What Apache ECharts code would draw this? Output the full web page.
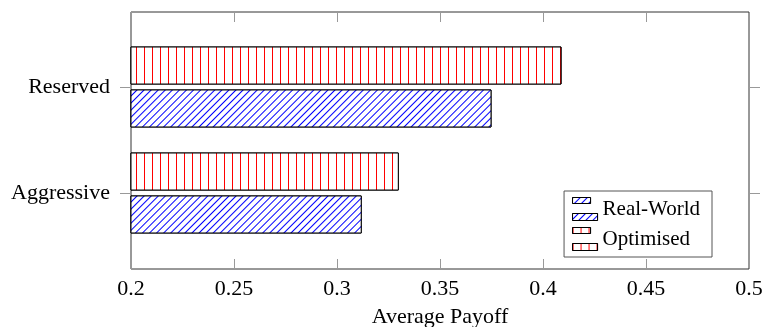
<!DOCTYPE html>
<html>
<head>
<meta charset="utf-8">
<script src="https://cdn.jsdelivr.net/npm/echarts@6/dist/echarts.min.js"></script>
<style>
html,body{margin:0;padding:0;background:#fff;}
#c{width:764px;height:327px;}
</style>
</head>
<body>
<div id="c"></div>
<script>
const categories = ['Aggressive', 'Reserved'];
const realWorld = [0.312, 0.375];
const optimised = [0.330, 0.409];
const xMin = 0.2, xMax = 0.5, xStep = 0.05;
const axisTitle = 'Average Payoff';

const FONT = 'Liberation Serif';
const chart = echarts.init(document.getElementById('c'), null, {renderer: 'canvas'});

const blueDecal = {
  symbol: 'rect', symbolSize: 1, color: '#0000ff', backgroundColor: '#ffffff',
  dashArrayX: [1, 0], dashArrayY: [1, 4], rotation: -Math.PI / 4
};
const redDecal = {
  symbol: 'rect', symbolSize: 1, color: '#ff0000', backgroundColor: '#ffffff',
  dashArrayX: [1, 7], dashArrayY: [1, 0], rotation: 0
};

chart.setOption({
  animation: false,
  backgroundColor: '#ffffff',
  textStyle: {fontFamily: FONT, color: '#000'},
  grid: [
    {left: 131, right: 15, top: 12, bottom: 58, show: true, borderColor: '#333', borderWidth: 1,
     backgroundColor: 'transparent', z: 0, containLabel: false, outerBoundsMode: 'none'},
    {left: 131, right: 15, top: 34, bottom: 81, show: false, containLabel: false, outerBoundsMode: 'none'}
  ],
  xAxis: [
    {gridIndex: 0, type: 'value', min: xMin, max: xMax, interval: xStep, position: 'bottom',
     axisLine: {show: false}, splitLine: {show: false},
     axisTick: {show: true, inside: true, length: 10, lineStyle: {color: '#999', width: 1}},
     axisLabel: {fontFamily: FONT, fontSize: 22, color: '#000', margin: 9},
     name: axisTitle, nameLocation: 'middle', nameGap: 37,
     nameTextStyle: {fontFamily: FONT, fontSize: 22, color: '#000'}},
    {gridIndex: 0, type: 'value', min: xMin, max: xMax, interval: xStep, position: 'top',
     axisLine: {show: false}, splitLine: {show: false},
     axisTick: {show: true, inside: true, length: 10, lineStyle: {color: '#999', width: 1}},
     axisLabel: {show: false}},
    {gridIndex: 1, type: 'value', min: xMin, max: xMax, show: false}
  ],
  yAxis: [
    {gridIndex: 0, type: 'value', show: false, min: 0, max: 1},
    {gridIndex: 1, type: 'category', data: categories, position: 'left',
     axisLine: {show: false},
     axisTick: {show: true, alignWithLabel: true, length: 11, lineStyle: {color: '#999', width: 1}},
     axisLabel: {fontFamily: FONT, fontSize: 22, color: '#000', margin: 21}},
    {gridIndex: 1, type: 'category', data: categories, position: 'right',
     axisLine: {show: false},
     axisTick: {show: true, alignWithLabel: true, length: 11, lineStyle: {color: '#999', width: 1}},
     axisLabel: {show: false}}
  ],
  legend: {
    orient: 'vertical', right: 52, bottom: 70,
    data: ['Real-World', 'Optimised'],
    backgroundColor: '#fff', borderColor: '#555', borderWidth: 1,
    padding: [6, 12, 6, 8], itemGap: 6,
    itemWidth: 25, itemHeight: 23, itemStyle: {borderColor: '#000', borderWidth: 1},
    icon: 'path://M0,0H18V6H0Z M0,16H25V23H0Z',
    textStyle: {fontFamily: FONT, fontSize: 21, color: '#000', padding: [0, 0, 0, 0]},
    selectedMode: false
  },
  series: [
    {name: 'Optimised', type: 'bar', xAxisIndex: 2, yAxisIndex: 1, data: optimised,
     barWidth: 38, barGap: '13%',
     itemStyle: {color: '#ffffff', borderColor: '#000', borderWidth: 1, decal: redDecal}},
    {name: 'Real-World', type: 'bar', xAxisIndex: 2, yAxisIndex: 1, data: realWorld,
     barWidth: 38, barGap: '13%',
     itemStyle: {color: '#ffffff', borderColor: '#000', borderWidth: 1, decal: blueDecal}}
  ]
});
</script>
</body>
</html>
